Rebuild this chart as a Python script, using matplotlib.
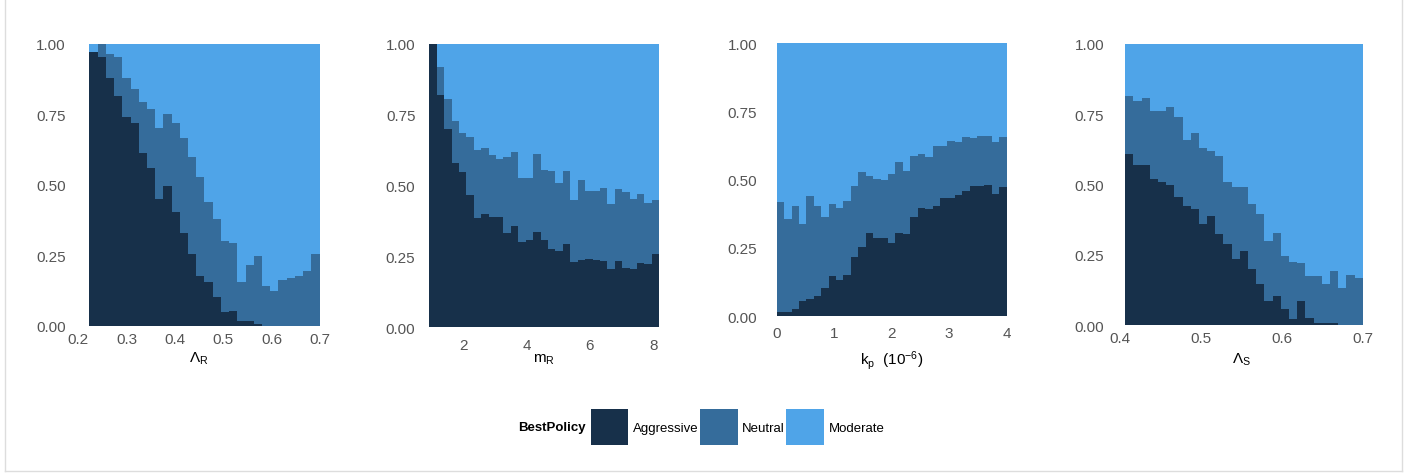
import numpy as np
import matplotlib
matplotlib.use('Agg')
import matplotlib.pyplot as plt
from matplotlib.patches import Patch
from matplotlib.lines import Line2D

plt.rcParams['font.family'] = ['Liberation Sans', 'DejaVu Sans']
plt.rcParams['mathtext.fontset'] = 'custom'
plt.rcParams['mathtext.rm'] = 'Liberation Sans'
plt.rcParams['mathtext.it'] = 'Liberation Sans:italic'
plt.rcParams['mathtext.bf'] = 'Liberation Sans:bold'
plt.rcParams['mathtext.default'] = 'regular'

policies = ['Aggressive', 'Neutral', 'Moderate']
colors = ['#17304A', '#356C9B', '#4FA4E8']

# share of runs in each bin where the policy was best (Moderate = rest)
lamR_range = (0.223, 0.699)
lamR_aggr = [0.973, 0.953, 0.878, 0.814, 0.74, 0.72, 0.613, 0.56, 0.45, 0.497,
             0.404, 0.33, 0.254, 0.177, 0.156, 0.10, 0.047, 0.05, 0.017, 0.017,
             0.005, 0, 0, 0, 0, 0, 0, 0]
lamR_neut = [0.0, 0.047, 0.087, 0.139, 0.138, 0.12, 0.18, 0.21, 0.25, 0.253,
             0.316, 0.335, 0.346, 0.349, 0.284, 0.278, 0.253, 0.243, 0.136, 0.198,
             0.241, 0.14, 0.124, 0.16, 0.168, 0.177, 0.195, 0.254]

mR_range = (0.926, 8.19)
mR_aggr = [1.0, 0.82, 0.698, 0.58, 0.546, 0.465, 0.384, 0.398, 0.39, 0.39,
           0.331, 0.357, 0.302, 0.307, 0.334, 0.306, 0.274, 0.269, 0.292, 0.229,
           0.236, 0.242, 0.238, 0.233, 0.205, 0.232, 0.21, 0.205, 0.226, 0.222, 0.259]
mR_neut = [0.0, 0.098, 0.108, 0.147, 0.139, 0.205, 0.24, 0.235, 0.217, 0.203,
           0.269, 0.262, 0.223, 0.221, 0.279, 0.248, 0.276, 0.24, 0.258, 0.221,
           0.283, 0.238, 0.242, 0.257, 0.229, 0.254, 0.267, 0.249, 0.243, 0.215, 0.191]

kp_range = (0.0, 4.0)
kp_aggr = [0.017, 0.017, 0.027, 0.057, 0.062, 0.076, 0.104, 0.146, 0.134, 0.151,
           0.217, 0.252, 0.305, 0.285, 0.285, 0.268, 0.305, 0.30, 0.362, 0.395,
           0.393, 0.405, 0.432, 0.434, 0.444, 0.46, 0.476, 0.478, 0.48, 0.448, 0.472]
kp_neut = [0.40, 0.339, 0.378, 0.281, 0.377, 0.329, 0.258, 0.265, 0.262, 0.272,
           0.261, 0.277, 0.21, 0.217, 0.215, 0.252, 0.258, 0.233, 0.226, 0.199,
           0.189, 0.217, 0.192, 0.209, 0.195, 0.195, 0.176, 0.183, 0.18, 0.191, 0.183]

lamS_range = (0.407, 0.7)
lamS_aggr = [0.609, 0.569, 0.569, 0.52, 0.51, 0.50, 0.454, 0.425, 0.413, 0.36,
             0.389, 0.324, 0.288, 0.235, 0.262, 0.199, 0.146, 0.087, 0.104, 0.057,
             0.021, 0.087, 0.024, 0.007, 0.007, 0.007, 0, 0, 0]
lamS_neut = [0.207, 0.229, 0.238, 0.243, 0.253, 0.275, 0.285, 0.235, 0.269, 0.269,
             0.231, 0.279, 0.22, 0.255, 0.228, 0.231, 0.249, 0.213, 0.223, 0.19,
             0.204, 0.134, 0.152, 0.166, 0.139, 0.186, 0.13, 0.178, 0.168]

xlabels = [r'$\Lambda_R$', r'$m_R$', r'$k_p\ \ (10^{-6})$', r'$\Lambda_S$']
xticks = [[0.2, 0.3, 0.4, 0.5, 0.6, 0.7], [2, 4, 6, 8], [0, 1, 2, 3, 4],
          [0.4, 0.5, 0.6, 0.7]]
xticklabels = [['0.2', '0.3', '0.4', '0.5', '0.6', '0.7'], ['2', '4', '6', '8'],
               ['0', '1', '2', '3', '4'], ['0.4', '0.5', '0.6', '0.7']]
xlims = [(0.2, 0.7), mR_range, kp_range, (0.4, 0.7)]
yticks = [0, 0.25, 0.5, 0.75, 1.0]
yticklabels = ['0.00', '0.25', '0.50', '0.75', '1.00']

data = [(lamR_range, lamR_aggr, lamR_neut), (mR_range, mR_aggr, mR_neut),
        (kp_range, kp_aggr, kp_neut), (lamS_range, lamS_aggr, lamS_neut)]

W, H = 1408, 477
fig = plt.figure(figsize=(W / 100, H / 100), dpi=100)

# panel boxes in pixels: left, right, top, bottom
boxes = [(78.3, 320, 45, 326.5), (429.3, 659.3, 45, 328), (776.7, 1006.7, 44, 317.3),
         (1119.5, 1362.7, 45, 326)]
ypads = [9, 10, 14, 11]
xpads = [5, 8, 7, 4.5]
label_y = [359, 360, 361, 360]

for i, ((lo, hi), aggr, neut) in enumerate(data):
    l, r, t, b = boxes[i]
    ax = fig.add_axes([l / W, 1 - b / H, (r - l) / W, (b - t) / H])
    aggr = np.array(aggr)
    neut = np.array(neut)
    edges = np.linspace(lo, hi, len(aggr) + 1)
    # layers drawn from 0 so neighbouring fills leave no seams
    ax.stairs(np.ones(len(aggr)), edges, baseline=0, fill=True, color=colors[2], lw=0)
    ax.stairs(aggr + neut, edges, baseline=0, fill=True, color=colors[1], lw=0)
    ax.stairs(aggr, edges, baseline=0, fill=True, color=colors[0], lw=0)

    ax.set_xlim(*xlims[i])
    ax.set_ylim(0, 1)
    ax.set_xticks(xticks[i])
    ax.set_xticklabels(xticklabels[i])
    ax.set_yticks(yticks)
    ax.set_yticklabels(yticklabels)
    for s in ax.spines.values():
        s.set_visible(False)
    ax.tick_params(axis='both', length=0, labelsize=11, labelcolor='#555555')
    ax.tick_params(axis='y', pad=ypads[i])
    ax.tick_params(axis='x', pad=xpads[i])
    ax.set_xlabel(xlabels[i], fontsize=11, color='black', va='center')
    ax.xaxis.set_label_coords(((l + r) / 2 - l) / (r - l), -(label_y[i] - b) / (b - t))

handles = [Patch(facecolor=c, edgecolor='none', label=p) for p, c in zip(policies, colors)]
fig.legend(handles=handles, loc='center left', bbox_to_anchor=(590.7 / W, 1 - 428 / H),
           ncol=3, frameon=False, fontsize=9.5, borderpad=0, borderaxespad=0,
           handlelength=2.86, handleheight=3.9, handletextpad=0.35, columnspacing=0.1)
fig.text(518 / W, 1 - 428 / H, 'BestPolicy', fontsize=9.5, fontweight='bold',
         ha='left', va='center')

# light frame round the figure
for xs, ys in [([5, 5], [0, 472]), ([1402, 1402], [0, 472]), ([5, 1402], [472, 472])]:
    fig.add_artist(Line2D([x / W for x in xs], [1 - y / H for y in ys],
                          color='#dddddd', lw=1))

fig.savefig('out.png', dpi=100)
